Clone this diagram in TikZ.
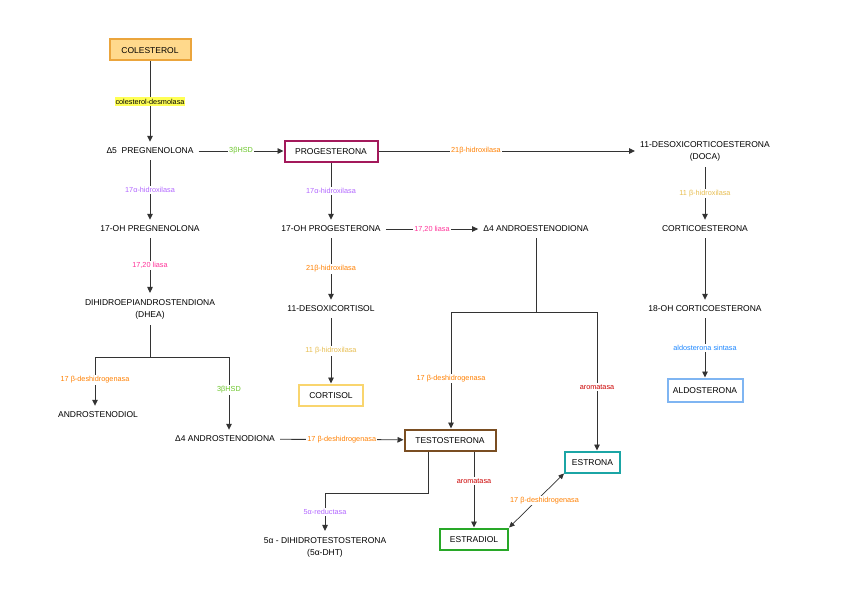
\documentclass[tikz,border=0pt]{standalone}
\usepackage{fontspec}
\setmainfont{Liberation Sans}
\usetikzlibrary{arrows.meta,calc}
\definecolor{colFill}{HTML}{FFD98C}
\definecolor{colDraw}{HTML}{EBA53C}
\definecolor{progDraw}{HTML}{A3195B}
\definecolor{cortDraw}{HTML}{F9D56E}
\definecolor{aldoDraw}{HTML}{7FB5F2}
\definecolor{testoDraw}{HTML}{7A4E22}
\definecolor{estronaDraw}{HTML}{1BA5A5}
\definecolor{estradDraw}{HTML}{28A828}
\definecolor{cGreen}{HTML}{6CC62A}
\definecolor{cPurple}{HTML}{B266FF}
\definecolor{cPink}{HTML}{FF3399}
\definecolor{cOrange}{HTML}{FF8000}
\definecolor{cGold}{HTML}{E8BE50}
\definecolor{cRed}{HTML}{CC0000}
\definecolor{cBlue}{HTML}{1E88FF}
\definecolor{cHi}{HTML}{FFFF55}
\definecolor{lineC}{HTML}{333333}
\tikzset{
  txt/.style={font=\fontsize{8.5}{12}\selectfont, align=center, inner xsep=5pt, inner ysep=6pt},
  box/.style={font=\fontsize{8.5}{12}\selectfont, draw, line width=2pt, minimum height=21pt, inner xsep=10pt, inner ysep=3pt, text height=6.1pt, text depth=0pt},
  lab/.style={font=\fontsize{7.3}{8}\selectfont, fill=white, inner xsep=1pt, inner ysep=1.5pt},
  arr/.style={-{Triangle[length=6pt,width=5.5pt]}, line width=0.9pt, draw=lineC},
  dbl/.style={{Triangle[length=5.5pt,width=5pt]}-{Triangle[length=5.5pt,width=5pt]}, line width=0.7pt, draw=lineC},
  ln/.style={line width=0.9pt, draw=lineC}
}
\begin{document}
\begin{tikzpicture}[x=1pt,y=-1pt]
\useasboundingbox[fill=white] (0,0) rectangle (848,602);
% nodes
\node[box, fill=colFill, draw=colDraw, minimum width=81pt] (col) at (150,50) {COLESTEROL};
\node[txt] (preg) at (150,151) {Δ5\ \ PREGNENOLONA};
\node[box, draw=progDraw, minimum width=93pt] (prog) at (331,151) {PROGESTERONA};
\node[txt] (doca) at (705,151) {11-DESOXICORTICOESTERONA\\(DOCA)};
\node[txt] (ohpreg) at (150,229) {17-OH PREGNENOLONA};
\node[txt] (ohprog) at (331,229) {17-OH PROGESTERONA};
\node[txt] (a4) at (536,229) {Δ4 ANDROESTENODIONA};
\node[txt] (cortico) at (705,229) {CORTICOESTERONA};
\node[txt] (dhea) at (150,309) {DIHIDROEPIANDROSTENDIONA\\(DHEA)};
\node[txt] (desox) at (331,309) {11-DESOXICORTISOL};
\node[txt] (oh18) at (705,309) {18-OH CORTICOESTERONA};
\node[box, draw=cortDraw, minimum width=62pt] (cortisol) at (331,395) {CORTISOL};
\node[box, draw=aldoDraw, inner xsep=5pt, minimum width=75pt, minimum height=23pt] (aldo) at (705,390) {ALDOSTERONA};
\node[txt] (andiol) at (98,415) {ANDROSTENODIOL};
\node[txt] (a4dione) at (225,439) {Δ4 ANDROSTENODIONA};
\node[box, draw=testoDraw, minimum width=91pt] (testo) at (450,440) {TESTOSTERONA};
\node[box, draw=estronaDraw, inner xsep=6pt, minimum width=55pt] (estrona) at (592.5,462) {ESTRONA};
\node[box, draw=estradDraw, minimum width=66pt] (estradiol) at (474,539) {ESTRADIOL};
\node[txt] (dht) at (325,547) {5α - DIHIDROTESTOSTERONA\\(5α-DHT)};
% junction coordinates
\coordinate (jd) at (150,357);
\coordinate (jl) at (95,357);
\coordinate (jr) at (229,357);
\coordinate (ja) at (536,312);
\coordinate (jal) at (451,312);
\coordinate (jar) at (597,312);
\coordinate (jt) at (428,493);
\coordinate (jtd) at (325,493);
% connectors
\draw[arr] (col) -- node[lab, fill=cHi] {colesterol-desmolasa} (preg);
\draw[arr] (preg) -- node[lab, text=cGreen] {3βHSD} (prog);
\draw[arr] (prog) -- node[lab, text=cOrange, pos=0.38] {21β-hidroxilasa} (doca);
\draw[arr] (preg) -- node[lab, text=cPurple] {17α-hidroxilasa} (ohpreg);
\draw[arr] (ohpreg) -- node[lab, text=cPink] {17,20 liasa} (dhea);
\draw[arr] (prog) -- node[lab, text=cPurple] {17α-hidroxilasa} (ohprog);
\draw[arr] (ohprog) -- node[lab, text=cPink] {17,20 liasa} (a4);
\draw[arr] (ohprog) -- node[lab, text=cOrange] {21β-hidroxilasa} (desox);
\draw[arr] (desox) -- node[lab, text=cGold] {11 β-hidroxilasa} (cortisol);
\draw[arr] (doca) -- node[lab, text=cGold] {11 β-hidroxilasa} (cortico);
\draw[arr] (cortico) -- (oh18);
\draw[arr] (oh18) -- node[lab, text=cBlue] {aldosterona sintasa} (aldo);
% DHEA branches
\draw[ln] (dhea) -- (jd);
\draw[ln] (jl) -- (jr);
\draw[arr] (jl) -- node[lab, text=cOrange, pos=0.47] {17 β-deshidrogenasa} (jl |- andiol.north);
\draw[arr] (jr) -- node[lab, text=cGreen, pos=0.45] {3βHSD} (jr |- a4dione.north);
\draw[arr] (a4dione) -- node[lab, text=cOrange] {17 β-deshidrogenasa} (testo);
% A4 androestenodiona branches
\draw[ln] (a4) -- (ja);
\draw[ln] (jal) -- (jar);
\draw[arr] (jal) -- node[lab, text=cOrange, pos=0.57] {17 β-deshidrogenasa} (jal |- testo.north);
\draw[arr] (jar) -- node[lab, text=cRed, pos=0.54] {aromatasa} (jar |- estrona.north);
% testosterona
\draw[arr] (estradiol.north |- testo.south) -- node[lab, text=cRed, pos=0.39] {aromatasa} (estradiol.north);
\draw[dbl] (estradiol.north east) -- node[lab, text=cOrange, pos=0.5, xshift=8pt] {17 β-deshidrogenasa} (estrona.south west);
\draw[ln] (jt |- testo.south) -- (jt) -- (jtd);
\draw[arr] (jtd) -- node[lab, text=cPurple] {5α-reductasa} (dht);
\end{tikzpicture}
\end{document}
